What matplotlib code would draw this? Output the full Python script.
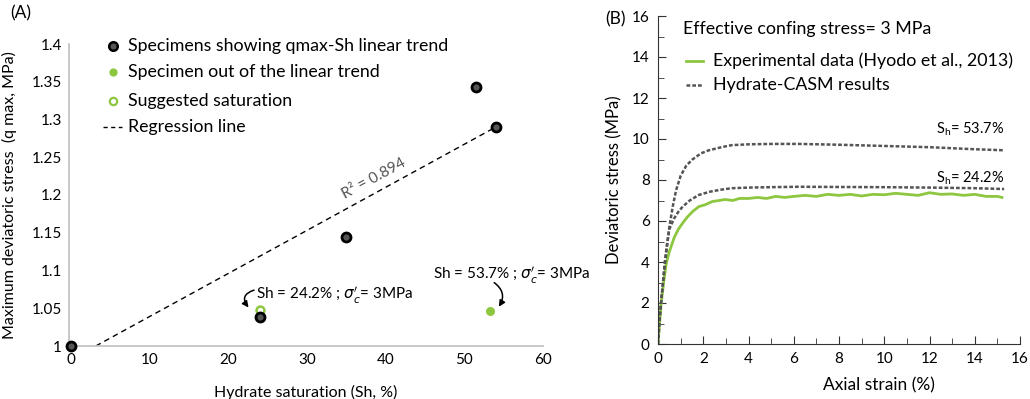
import matplotlib
matplotlib.use('Agg')
import matplotlib.pyplot as plt
from matplotlib.ticker import MultipleLocator

plt.rcParams['font.family'] = ['Lato', 'DejaVu Sans']
plt.rcParams['mathtext.fontset'] = 'dejavusans'

# panel A data
sh_trend = [0, 24, 35, 51.5, 54]
q_trend = [1.0, 1.038, 1.145, 1.343, 1.29]
sh_out = [53.3]
q_out = [1.046]
sh_sugg = [24]
q_sugg = [1.048]
reg_x = [3.2, 54]
reg_y = [1.0, 1.29]

# panel B data
casm_hi_x = [0, 0.07, 0.15, 0.22, 0.36, 0.5, 0.65, 0.8, 1.0, 1.25, 1.52, 1.9, 2.25, 2.8, 3.26, 4.0, 5.0, 6.2,
             8.0, 10.0, 12.0, 14.0, 15.3]
casm_hi_y = [0, 1.2, 2.2, 3.0, 4.4, 5.7, 6.7, 7.5, 8.2, 8.7, 9.0, 9.3, 9.45, 9.6, 9.7, 9.74, 9.76, 9.76,
             9.72, 9.66, 9.6, 9.5, 9.45]
casm_lo_x = [0, 0.07, 0.15, 0.22, 0.29, 0.4, 0.5, 0.7, 0.9, 1.09, 1.4, 1.8, 2.3, 2.8, 3.26, 4.0, 5.0, 6.2,
             8.0, 10.0, 12.0, 14.0, 15.3]
casm_lo_y = [0, 1.2, 2.2, 3.0, 3.9, 4.9, 5.6, 6.1, 6.45, 6.7, 7.0, 7.27, 7.43, 7.53, 7.6, 7.63, 7.65, 7.67,
             7.66, 7.65, 7.63, 7.6, 7.56]
exp_x = [0, 0.07, 0.14, 0.25, 0.36, 0.5, 0.72, 0.9, 1.09, 1.3, 1.52, 1.8, 2.1, 2.4, 2.7, 2.97, 3.3, 3.6,
         4.0, 4.4, 4.8, 5.2, 5.6, 6.0, 6.5, 7.0, 7.5, 8.0, 8.5, 9.0, 9.5, 10.0, 10.5, 11.0, 11.5, 12.0,
         12.5, 13.0, 13.5, 14.0, 14.5, 15.0, 15.2]
exp_y = [0, 1.0, 2.0, 3.0, 3.9, 4.5, 5.2, 5.6, 5.9, 6.2, 6.45, 6.7, 6.8, 6.95, 7.0, 7.05, 7.0, 7.1,
         7.1, 7.15, 7.1, 7.2, 7.15, 7.2, 7.25, 7.2, 7.3, 7.25, 7.3, 7.22, 7.3, 7.28, 7.35, 7.3, 7.25, 7.38,
         7.3, 7.32, 7.25, 7.3, 7.2, 7.2, 7.15]

green = '#8dc63f'
axis_grey = '#c4c4c4'
casm_style = dict(color='#555555', lw=1.8, ls=(0, (1.5, 0.8)))

fig = plt.figure(figsize=(10.3, 3.99), dpi=100)
fig_w, fig_h = 1030, 399

# ---------------- (A) ----------------
ax1 = fig.add_axes([69 / fig_w, 1 - 346 / fig_h, 474 / fig_w, 302 / fig_h])
ax1.set_xlim(-0.2, 59.6)
ax1.set_ylim(1.0, 1.4)
for s in ['top', 'right']:
    ax1.spines[s].set_visible(False)
for s in ['left', 'bottom']:
    ax1.spines[s].set_color(axis_grey)
    ax1.spines[s].set_linewidth(1.3)
ax1.set_xticks(range(0, 61, 10))
ax1.set_yticks([1, 1.05, 1.1, 1.15, 1.2, 1.25, 1.3, 1.35, 1.4])
ax1.set_yticklabels(['1', '1.05', '1.1', '1.15', '1.2', '1.25', '1.3', '1.35', '1.4'])
ax1.tick_params(length=0, labelsize=11, pad=5)

ax1.plot(reg_x, reg_y, color='black', lw=1, ls='--', dashes=(4, 3))
ax1.scatter(sh_trend, q_trend, s=42, facecolor='#555555', edgecolor='black', linewidth=2, zorder=3, clip_on=False)
ax1.scatter(sh_out, q_out, s=30, color=green, zorder=3)
ax1.scatter(sh_sugg, q_sugg, s=32, facecolor='white', edgecolor=green, linewidth=1.8, zorder=2)

ax1.text(38.5, 1.222, 'R² = 0.894', rotation=28.5, rotation_mode='anchor', color='#555555',
         fontsize=11, ha='center', va='center')

arrow = dict(arrowstyle='-|>', color='black', lw=1.1, mutation_scale=9, shrinkA=0, shrinkB=0)
ax1.text(23.5, 1.067, 'Sh = 24.2% ; $\\sigma_c\'$= 3MPa', fontsize=11, ha='left', va='center')
ax1.annotate('', xy=(22.6, 1.051), xytext=(23.3, 1.074),
             arrowprops=dict(connectionstyle='arc3,rad=0.7', **arrow))
ax1.text(46.0, 1.093, 'Sh = 53.7% ; $\\sigma_c\'$= 3MPa', fontsize=11, ha='left', va='center', clip_on=False)
ax1.annotate('', xy=(54.4, 1.052), xytext=(53.8, 1.084),
             arrowprops=dict(connectionstyle='arc3,rad=-0.45', **arrow))

ax1.set_xlabel('Hydrate saturation (Sh, %)', fontsize=11.5)
ax1.xaxis.set_label_coords(0.5, -39 / 302)
ax1.set_ylabel('Maximum deviatoric stress  (q max, MPa)', fontsize=11.5)
ax1.yaxis.set_label_coords(-52 / 474, 0.5)

fig.text(10 / fig_w, 1 - 13 / fig_h, '(A)', fontsize=12.5, va='center', ha='left')
fig.text(605 / fig_w, 1 - 19 / fig_h, '(B)', fontsize=12.5, va='center', ha='left')

# legend A texts
entries = [(46, 'Specimens showing qmax-Sh linear trend'),
           (72, 'Specimen out of the linear trend'),
           (101, 'Suggested saturation'),
           (127, 'Regression line')]
for py, txt in entries:
    fig.text(128 / fig_w, 1 - py / fig_h, txt, fontsize=12.8, va='center', ha='left')

# ---------------- (B) ----------------
ax2 = fig.add_axes([658 / fig_w, 1 - 344 / fig_h, 362 / fig_w, 328 / fig_h])
ax2.set_xlim(0, 16)
ax2.set_ylim(0, 16)
for s in ['top', 'right']:
    ax2.spines[s].set_visible(False)
ax2.spines['left'].set_color('#333333')
ax2.spines['bottom'].set_color('#333333')
ax2.xaxis.set_major_locator(MultipleLocator(2))
ax2.xaxis.set_minor_locator(MultipleLocator(1))
ax2.yaxis.set_major_locator(MultipleLocator(2))
ax2.yaxis.set_minor_locator(MultipleLocator(1))
ax2.tick_params(which='both', direction='in', color='#333333', labelsize=11)
ax2.tick_params(which='major', length=6, pad=6)
ax2.tick_params(which='minor', length=4)

ax2.plot(exp_x, exp_y, color=green, lw=2)
ax2.plot(casm_hi_x, casm_hi_y, **casm_style)
ax2.plot(casm_lo_x, casm_lo_y, **casm_style)

ax2.text(15.3, 10.45, '$\\mathregular{S_h}$= 53.7%', fontsize=10.5, ha='right', va='center')
ax2.text(15.3, 8.1, '$\\mathregular{S_h}$= 24.2%', fontsize=10.5, ha='right', va='center')

ax2.set_xlabel('Axial strain (%)', fontsize=12.5)
ax2.xaxis.set_label_coords(0.61, -33 / 328)
ax2.set_ylabel('Deviatoric stress (MPa)', fontsize=12)
ax2.yaxis.set_label_coords(-36 / 362, 0.5)

fig.text(683 / fig_w, 1 - 29 / fig_h, 'Effective confing stress= 3 MPa', fontsize=12.8, va='center', ha='left')
fig.text(713 / fig_w, 1 - 61 / fig_h, 'Experimental data (Hyodo et al., 2013)', fontsize=12.8, va='center', ha='left')
fig.text(713 / fig_w, 1 - 85 / fig_h, 'Hydrate-CASM results', fontsize=12.8, va='center', ha='left')

# legend markers, overlay in pixel units
mk = fig.add_axes([0, 0, 1, 1], facecolor='none')
mk.set_xlim(0, fig_w)
mk.set_ylim(fig_h, 0)
mk.axis('off')
mk.scatter([113], [46], s=38, facecolor='#555555', edgecolor='black', linewidth=1.8)
mk.scatter([113], [72], s=24, color=green)
mk.scatter([113], [101], s=28, facecolor='white', edgecolor=green, linewidth=1.6)
mk.plot([103, 122], [127, 127], color='black', lw=1, ls='--', dashes=(3, 2.5))
mk.plot([686, 703], [61, 61], color=green, lw=2)
mk.plot([686, 703], [85, 85], **casm_style)

fig.savefig('out.png', dpi=100)
